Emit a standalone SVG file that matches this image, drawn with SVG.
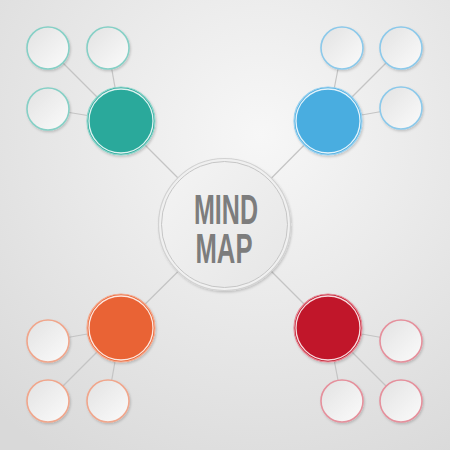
<svg xmlns="http://www.w3.org/2000/svg" width="450" height="450" viewBox="0 0 450 450">
  <defs>
    <radialGradient id="bg" cx="0.58" cy="0.3" r="0.85">
      <stop offset="0" stop-color="#f7f7f7"/>
      <stop offset="1" stop-color="#d9d9d9"/>
    </radialGradient>
    <linearGradient id="smallFill" x1="0" y1="0" x2="1" y2="1">
      <stop offset="0" stop-color="#e2e2e2"/>
      <stop offset="1" stop-color="#fbfbfb"/>
    </linearGradient>
    <linearGradient id="centerFill" x1="0" y1="0" x2="1" y2="1">
      <stop offset="0" stop-color="#f4f4f4"/>
      <stop offset="1" stop-color="#e6e6e6"/>
    </linearGradient>
    <filter id="sh" x="-20%" y="-20%" width="140%" height="140%">
      <feDropShadow dx="1" dy="1.5" stdDeviation="1.2" flood-color="#000" flood-opacity="0.18"/>
    </filter>
  </defs>
  <style>
    .conn line { stroke: #c4c4c4; stroke-width: 1.2; }
    .small { fill: url(#smallFill); stroke-width: 1.6; filter: url(#sh); }
    .ring { fill: none; stroke: #ffffff; stroke-width: 1.3; opacity: 0.85; }
    .main { filter: url(#sh); }
    .label { font-family: "Liberation Sans", "DejaVu Sans", sans-serif; font-size: 42px; font-weight: bold; fill: #7d7d7d; text-anchor: middle; }
  </style>
  <rect width="450" height="450" fill="url(#bg)"/>

  <g id="connectors" class="conn">
    <line x1="225" y1="225" x2="121" y2="121"/>
    <line x1="225" y1="225" x2="328" y2="121"/>
    <line x1="225" y1="225" x2="121" y2="328"/>
    <line x1="225" y1="225" x2="328" y2="328"/>
    <line x1="121" y1="121" x2="48" y2="48"/>
    <line x1="121" y1="121" x2="108" y2="48"/>
    <line x1="121" y1="121" x2="48" y2="109"/>
    <line x1="328" y1="121" x2="342" y2="48"/>
    <line x1="328" y1="121" x2="401" y2="48"/>
    <line x1="328" y1="121" x2="401" y2="108"/>
    <line x1="121" y1="328" x2="48" y2="341"/>
    <line x1="121" y1="328" x2="48" y2="401"/>
    <line x1="121" y1="328" x2="108" y2="401"/>
    <line x1="328" y1="328" x2="401" y2="341"/>
    <line x1="328" y1="328" x2="342" y2="401"/>
    <line x1="328" y1="328" x2="401" y2="401"/>
  </g>

  <g id="teal-small-1"><circle class="small" cx="48" cy="48" r="21" stroke="#86d0c6"/></g>
  <g id="teal-small-2"><circle class="small" cx="108" cy="48" r="21" stroke="#86d0c6"/></g>
  <g id="teal-small-3"><circle class="small" cx="48" cy="109" r="21" stroke="#86d0c6"/></g>
  <g id="teal-main"><circle class="main" cx="121" cy="121" r="34" fill="#2aa99b" stroke="#8fd5cb" stroke-width="1.2"/><circle class="ring" cx="121" cy="121" r="32"/></g>

  <g id="blue-small-1"><circle class="small" cx="342" cy="48" r="21" stroke="#8cc9ea"/></g>
  <g id="blue-small-2"><circle class="small" cx="401" cy="48" r="21" stroke="#8cc9ea"/></g>
  <g id="blue-small-3"><circle class="small" cx="401" cy="108" r="21" stroke="#8cc9ea"/></g>
  <g id="blue-main"><circle class="main" cx="328" cy="121" r="34" fill="#4aade0" stroke="#9bd1ef" stroke-width="1.2"/><circle class="ring" cx="328" cy="121" r="32"/></g>

  <g id="orange-small-1"><circle class="small" cx="48" cy="341" r="21" stroke="#f0a68c"/></g>
  <g id="orange-small-2"><circle class="small" cx="48" cy="401" r="21" stroke="#f0a68c"/></g>
  <g id="orange-small-3"><circle class="small" cx="108" cy="401" r="21" stroke="#f0a68c"/></g>
  <g id="orange-main"><circle class="main" cx="121" cy="328" r="34" fill="#e96434" stroke="#f4a88c" stroke-width="1.2"/><circle class="ring" cx="121" cy="328" r="32"/></g>

  <g id="red-small-1"><circle class="small" cx="401" cy="341" r="21" stroke="#e5909c"/></g>
  <g id="red-small-2"><circle class="small" cx="342" cy="401" r="21" stroke="#e5909c"/></g>
  <g id="red-small-3"><circle class="small" cx="401" cy="401" r="21" stroke="#e5909c"/></g>
  <g id="red-main"><circle class="main" cx="328" cy="328" r="34" fill="#c1182c" stroke="#e58a96" stroke-width="1.2"/><circle class="ring" cx="328" cy="328" r="32"/></g>

  <g id="center">
    <circle class="main" cx="224.5" cy="224.5" r="66" fill="#f0f0f0" stroke="#d2d2d2" stroke-width="1.2"/>
    <circle cx="224.5" cy="224.5" r="63" fill="url(#centerFill)" stroke="#c6c6c6" stroke-width="1"/>
    <text class="label"><tspan x="226" y="224" textLength="64" lengthAdjust="spacingAndGlyphs">MIND</tspan><tspan x="224" y="263" textLength="57" lengthAdjust="spacingAndGlyphs">MAP</tspan></text>
  </g>
</svg>
